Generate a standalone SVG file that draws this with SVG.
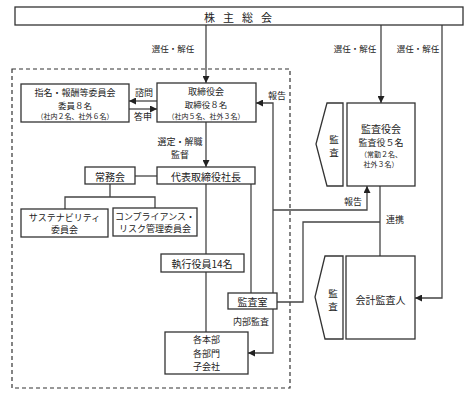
<svg xmlns="http://www.w3.org/2000/svg" width="473" height="404" viewBox="0 0 473 404">
<defs>
<style>
.b{fill:#fff;stroke:#333;stroke-width:1.3}
.c{fill:none;stroke:#444;stroke-width:1.3}
text{font-family:"Noto Sans CJK JP","Noto Sans",sans-serif;fill:#222;text-anchor:middle;dominant-baseline:central}
.t{font-size:10px}
.m{font-size:9.5px}
.s{font-size:9px}
.n{font-size:8.5px}
.p{font-size:7px}
.l{font-size:8.5px}
</style>
<marker id="a" viewBox="0 0 10 10" refX="10" refY="5" markerWidth="7" markerHeight="7" markerUnits="userSpaceOnUse" orient="auto">
<path d="M0,0 L10,5 L0,10 z" fill="#222"/>
</marker>
</defs>
<rect width="473" height="404" fill="#fff"/>
<rect x="12" y="69" width="278" height="319" fill="none" stroke="#333" stroke-width="1.2" stroke-dasharray="4,3"/>

<g id="connectors">
<path class="c" d="M206,25 V83" marker-end="url(#a)"/>
<path class="c" d="M381,25 V103" marker-end="url(#a)"/>
<path class="c" d="M442,25 V298 H415" marker-end="url(#a)"/>
<path class="c" d="M157,101 H129" marker-end="url(#a)"/>
<path class="c" d="M129,109 H157" marker-end="url(#a)"/>
<path class="c" d="M206,122 V167" marker-end="url(#a)"/>
<path class="c" d="M135,176 H157"/>
<path class="c" d="M110,184 V197 M65,209 V197 H155 V208"/>
<path class="c" d="M206,184 V254"/>
<path class="c" d="M206,272 V332"/>
<path class="c" d="M251,184 V293"/>
<path class="c" d="M273,293 V103 H256" marker-end="url(#a)"/>
<path class="c" d="M273,309 V353 H248" marker-end="url(#a)"/>
<path class="c" d="M273,210 H367 V186" marker-end="url(#a)"/>
<path class="c" d="M277,302 H303 V222 H380"/>
<path class="c" d="M380,186 V256"/>
</g>

<g id="labels">
<text class="l" x="173" y="48">選任・解任</text>
<text class="l" x="355" y="48">選任・解任</text>
<text class="l" x="418" y="48">選任・解任</text>
<text class="s" x="144" y="92.5">諮問</text>
<text class="s" x="143" y="116.5">答申</text>
<text class="s" x="277" y="95">報告</text>
<text class="s" x="180" y="141">選定・解職</text>
<text class="s" x="180" y="154">監督</text>
<text class="s" x="353" y="201">報告</text>
<text class="s" x="395" y="219">連携</text>
<text class="s" x="251" y="321">内部監査</text>
</g>

<g id="shareholders">
<rect class="b" x="15" y="7" width="448" height="18"/>
<text x="242" y="16.5" font-size="11" letter-spacing="8">株主総会</text>
</g>

<g id="nomination">
<rect class="b" x="21" y="84" width="108" height="38"/>
<text class="s" x="75" y="92">指名・報酬等委員会</text>
<text class="n" x="75" y="104.5">委員８名</text>
<text class="p" x="75" y="115.8">（社内２名、社外６名）</text>
</g>

<g id="board">
<rect class="b" x="157" y="83" width="99" height="39"/>
<text class="s" x="206" y="91.5">取締役会</text>
<text class="n" x="206" y="104">取締役８名</text>
<text class="p" x="206" y="115.5">（社内５名、社外３名）</text>
</g>

<g id="president">
<rect class="b" x="157" y="167" width="98" height="17"/>
<text class="t" x="206" y="176">代表取締役社長</text>
</g>

<g id="executive-committee">
<rect class="b" x="85" y="167" width="50" height="17"/>
<text class="t" x="110" y="176">常務会</text>
</g>

<g id="sustainability">
<rect class="b" x="21" y="209" width="87" height="28"/>
<text class="s" x="64.5" y="217.5">サステナビリティ</text>
<text class="s" x="64.5" y="229.5">委員会</text>
</g>

<g id="compliance">
<rect class="b" x="113" y="208" width="84" height="28"/>
<text class="s" x="155" y="216.5">コンプライアンス・</text>
<text class="s" x="155" y="228.5">リスク管理委員会</text>
</g>

<g id="officers">
<rect class="b" x="161" y="254" width="83" height="18"/>
<text class="t" x="202" y="263.5">執行役員14名</text>
</g>

<g id="audit-office">
<rect class="b" x="228" y="293" width="49" height="16"/>
<text class="t" x="252.5" y="301.5">監査室</text>
</g>

<g id="divisions">
<rect class="b" x="165" y="332" width="83" height="42"/>
<text class="s" x="206.5" y="339.8">各本部</text>
<text class="s" x="206.5" y="353">各部門</text>
<text class="s" x="206.5" y="366.2">子会社</text>
</g>

<g id="audit-board">
<rect class="b" x="347" y="103" width="68" height="83"/>
<text class="t" x="381" y="128">監査役会</text>
<text class="s" x="381" y="142">監査役５名</text>
<text class="p" x="381" y="153.5">（常勤２名、</text>
<text class="p" x="381" y="163.8">社外３名）</text>
</g>

<g id="audit-tag-1">
<path class="b" d="M327,103 H343 V186 H327 L316,144 Z"/>
<text class="m" x="334" y="138.5">監</text>
<text class="m" x="334" y="151.5">査</text>
</g>

<g id="accounting-auditor">
<rect class="b" x="346" y="256" width="69" height="83"/>
<text class="t" x="380.5" y="299">会計監査人</text>
</g>

<g id="audit-tag-2">
<path class="b" d="M325,256 H343 V339 H325 L315,297 Z"/>
<text class="m" x="333" y="292.5">監</text>
<text class="m" x="333" y="305.5">査</text>
</g>
</svg>
